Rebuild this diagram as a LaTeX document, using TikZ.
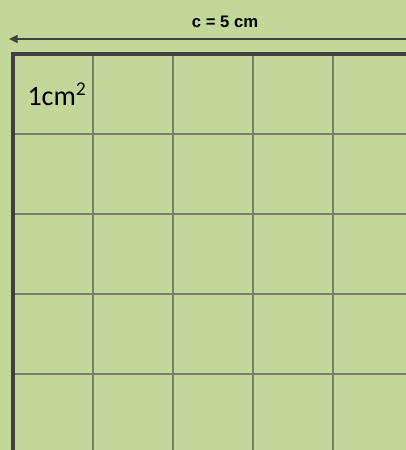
\documentclass[tikz,border=0pt]{standalone}
\usepackage{fontspec}
\setmainfont{Liberation Sans}
\newfontfamily\calibri{Carlito}
\usetikzlibrary{arrows.meta}
\definecolor{areagreen}{RGB}{196,215,155}
\definecolor{edgegray}{RGB}{64,64,64}
\definecolor{linegray}{RGB}{118,126,104}
\begin{document}
\begin{tikzpicture}[x=0.75pt,y=-0.75pt,every node/.style={inner sep=0pt},
    side/.style={edgegray,line width=2.6pt},
    cell/.style={linegray,line width=1.1pt},
    measure/.style={edgegray,line width=1.5pt,-{Triangle[length=6.5pt,width=6pt]}}]
    \clip (0,0) rectangle (406,450);
    \fill[areagreen] (0,0) rectangle (406,450);

    % grid of 1 cm squares
    \foreach \x in {93,173,253,333}
        \draw[cell] (\x,54) -- (\x,452);
    \foreach \y in {134,214,294,374}
        \draw[cell] (13,\y) -- (408,\y);
    \draw[side] (13,452) -- (13,54) -- (408,54);

    % side length
    \coordinate (arrR) at (410,39);
    \coordinate (arrL) at (9,39);
    \draw[measure] (arrR) -- (arrL);
    \node (clen) at (225,22) {\fontsize{12.5}{15}\selectfont\bfseries c = 5 cm};

    \node (unit) at (57,94) {\calibri\fontsize{21}{25}\selectfont 1cm\textsuperscript{2}};
\end{tikzpicture}
\end{document}
